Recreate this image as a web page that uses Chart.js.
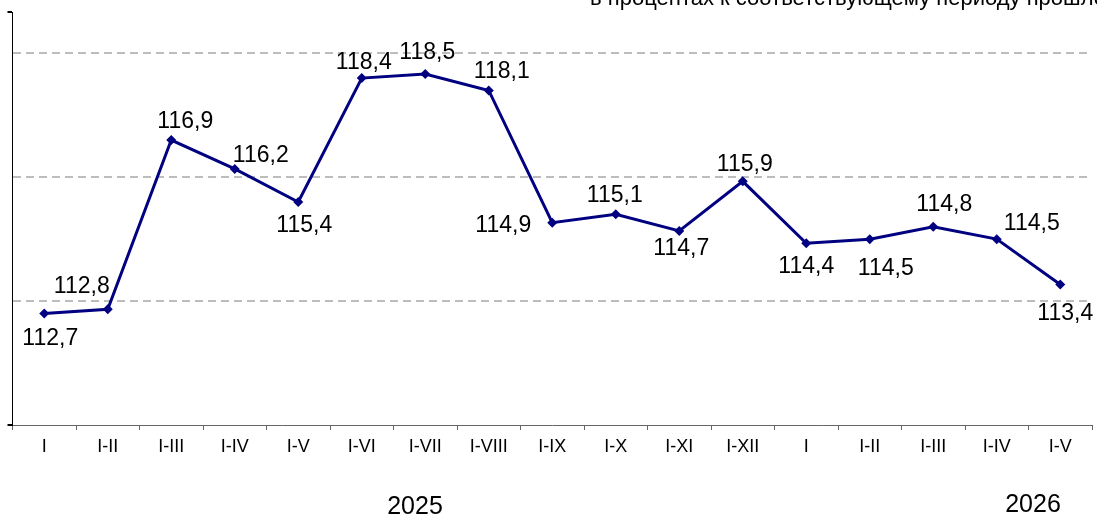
<!DOCTYPE html>
<html>
<head>
<meta charset="utf-8">
<script src="https://cdn.jsdelivr.net/npm/chart.js@4/dist/chart.umd.min.js"></script>
<style>
  html, body { margin: 0; padding: 0; background: #fff; }
  #wrap { width: 1097px; height: 516px; position: relative; }
</style>
</head>
<body>
<div id="wrap"><canvas id="myChart"></canvas></div>
<script>
// Data
const periods = ['I', 'I-II', 'I-III', 'I-IV', 'I-V', 'I-VI', 'I-VII', 'I-VIII', 'I-IX', 'I-X', 'I-XI', 'I-XII',
                 'I', 'I-II', 'I-III', 'I-IV', 'I-V'];
const values = [112.7, 112.8, 116.9, 116.2, 115.4, 118.4, 118.5, 118.1, 114.9, 115.1, 114.7, 115.9,
                114.4, 114.5, 114.8, 114.5, 113.4];
const years = ['2025', '2026'];
const yTicks = [110, 113, 116, 119, 120];
const gridAt = [113, 116, 119];
const subtitle = 'в процентах к соответствующему периоду прошлого года';

// Label offsets from each point (px)
const labelShift = [[6, 25], [-26, -23], [14, -18], [26, -13], [6, 24], [2, -15], [2, -21], [13, -19],
                    [-49, 3], [-1, -19], [2, 18], [2, -17], [0, 23], [16, 30], [11, -22], [35, -15], [5, 29]];

const font = "'Liberation Sans', Arial, sans-serif";

// Value labels, subtitle and years
const textPlugin = {
  id: 'texts',
  afterDatasetsDraw(chart) {
    const ctx = chart.ctx;
    const meta = chart.getDatasetMeta(0);
    ctx.save();
    ctx.fillStyle = '#000';
    ctx.font = '23px ' + font;
    ctx.textAlign = 'center';
    ctx.textBaseline = 'middle';
    meta.data.forEach((pt, i) => {
      const s = labelShift[i];
      ctx.fillText(values[i].toFixed(1).replace('.', ','), pt.x + s[0], pt.y + s[1]);
    });

    ctx.font = '25px ' + font;
    ctx.fillText(years[0], 415, 507);
    ctx.fillText(years[1], 1033, 505);

    ctx.font = '22px ' + font;
    ctx.textAlign = 'left';
    ctx.textBaseline = 'alphabetic';
    ctx.fillText(subtitle, 590, 5);
    ctx.restore();
  }
};

const ctx = document.getElementById('myChart').getContext('2d');

const myChart = new Chart(ctx, {
  type: 'line',
  data: {
    labels: periods,
    datasets: [{
      data: values,
      borderColor: '#000080',
      backgroundColor: '#000080',
      borderWidth: 3,
      pointStyle: 'rectRot',
      pointRadius: 5,
      pointBorderWidth: 0,
      tension: 0,
      fill: false
    }]
  },
  options: {
    responsive: true,
    maintainAspectRatio: false,
    animation: false,
    layout: { padding: { top: 12, right: 3, left: 0, bottom: 0 } },
    plugins: {
      legend: { display: false },
      tooltip: { enabled: false }
    },
    scales: {
      x: {
        offset: true,
        afterFit: (scale) => { scale.height = 91; },
        grid: {
          offset: true,
          drawOnChartArea: false,
          drawTicks: true,
          tickLength: 5,
          color: '#666'
        },
        border: { color: '#666', width: 1 },
        ticks: {
          color: '#000',
          padding: 6,
          font: { family: font, size: 18 },
          maxRotation: 0,
          autoSkip: false
        }
      },
      y: {
        min: 110,
        max: 120,
        afterFit: (scale) => { scale.width = 12.5; },
        afterBuildTicks: (scale) => { scale.ticks = yTicks.map(v => ({ value: v })); },
        ticks: { display: false },
        grid: {
          drawTicks: true,
          tickLength: 5,
          color: (c) => (c.tick && gridAt.includes(c.tick.value)) ? '#bdbdbd' : 'rgba(0,0,0,0)',
          tickColor: (c) => (c.tick && (c.tick.value === 110 || c.tick.value === 120)) ? '#000' : 'rgba(0,0,0,0)',
          lineWidth: 2
        },
        border: { color: '#000', width: 1, dash: [8, 5] }
      }
    }
  },
  plugins: [textPlugin]
});
</script>
</body>
</html>
